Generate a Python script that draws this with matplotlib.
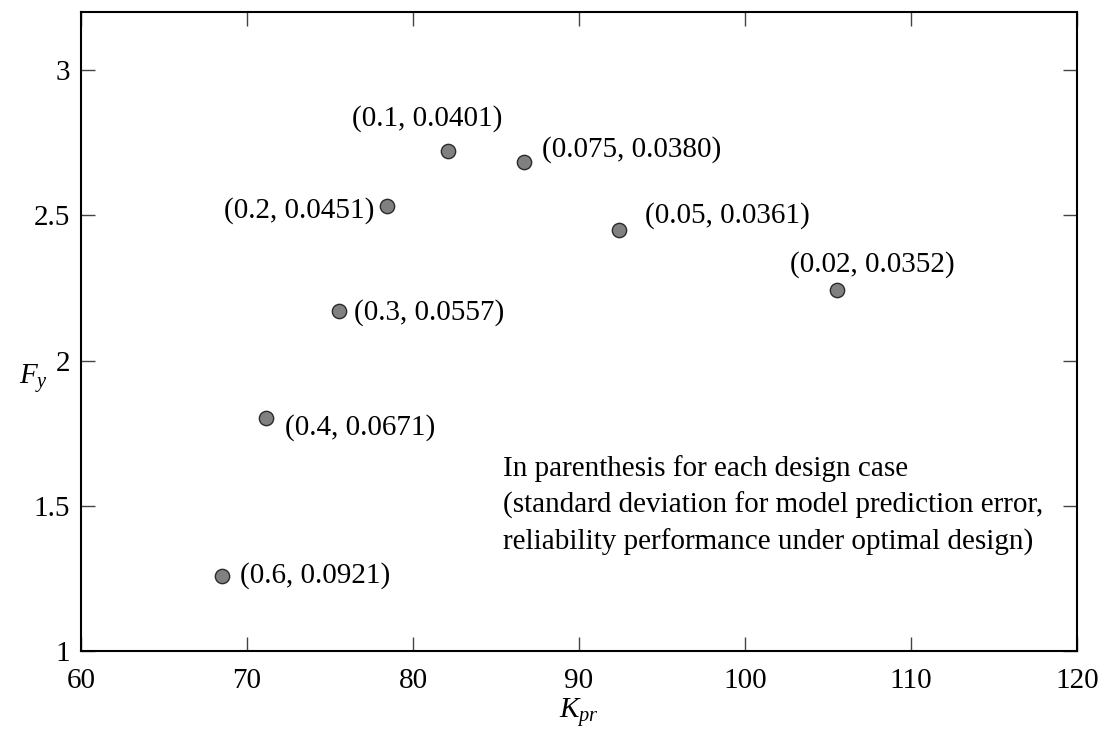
import matplotlib
matplotlib.use("Agg")
import matplotlib.pyplot as plt

plt.rcParams['font.family'] = ['Liberation Serif', 'DejaVu Serif']
plt.rcParams['mathtext.fontset'] = 'custom'
plt.rcParams['mathtext.rm'] = 'Liberation Serif'
plt.rcParams['mathtext.it'] = 'Liberation Serif:italic'

# design cases: (std of model prediction error, reliability performance)
case_labels = ['(0.1, 0.0401)', '(0.075, 0.0380)', '(0.2, 0.0451)', '(0.05, 0.0361)',
               '(0.02, 0.0352)', '(0.3, 0.0557)', '(0.4, 0.0671)', '(0.6, 0.0921)']
k_pr = [82.13, 86.69, 78.42, 92.41, 105.56, 75.54, 71.14, 68.48]
f_y = [2.721, 2.684, 2.531, 2.451, 2.244, 2.170, 1.802, 1.259]

# label offsets in pixels and alignment for each case
label_offsets = [(-21, 33), (18, 12), (-12, -4), (26, 14), (-47, 25), (15, -1), (19, -9), (18, 0)]
label_ha = ['center', 'left', 'right', 'left', 'left', 'left', 'left', 'left']

fig = plt.figure(figsize=(11.08, 7.29), dpi=100)
ax = fig.add_axes([0.0731, 0.107, 0.8989, 0.8765])

ax.plot(k_pr, f_y, 'o', linestyle='none', markersize=10.3,
        markerfacecolor='#808080', markeredgecolor='#2a2a2a', markeredgewidth=1.0)

for lbl, x, y, off, ha in zip(case_labels, k_pr, f_y, label_offsets, label_ha):
    ax.annotate(lbl, (x, y), xytext=off, textcoords='offset pixels',
                ha=ha, va='center', fontsize=21)

ax.text(85.42, 1.5, "In parenthesis for each design case\n"
        "(standard deviation for model prediction error,\n"
        "reliability performance under optimal design)",
        ha='left', va='center', fontsize=21, linespacing=1.47)

ax.set_xlim(60, 120)
ax.set_ylim(1, 3.2)
ax.set_xticks([60, 70, 80, 90, 100, 110, 120])
ax.set_yticks([1, 1.5, 2, 2.5, 3])
ax.set_yticklabels(['1', '1.5', '2', '2.5', '3'])

ax.tick_params(direction='in', length=10, width=1, color='#444444',
               top=True, right=True, labelsize=21, pad=8)
ax.tick_params(axis='x', pad=12)
for s in ax.spines.values():
    s.set_linewidth(1.5)

ax.set_xlabel(r'$K_{pr}$', fontsize=21, labelpad=2)
ax.set_ylabel(r'$F_y$', fontsize=21, rotation=0)
ax.yaxis.set_label_coords(-0.048, 0.40)

fig.savefig('out.png', dpi=100)
